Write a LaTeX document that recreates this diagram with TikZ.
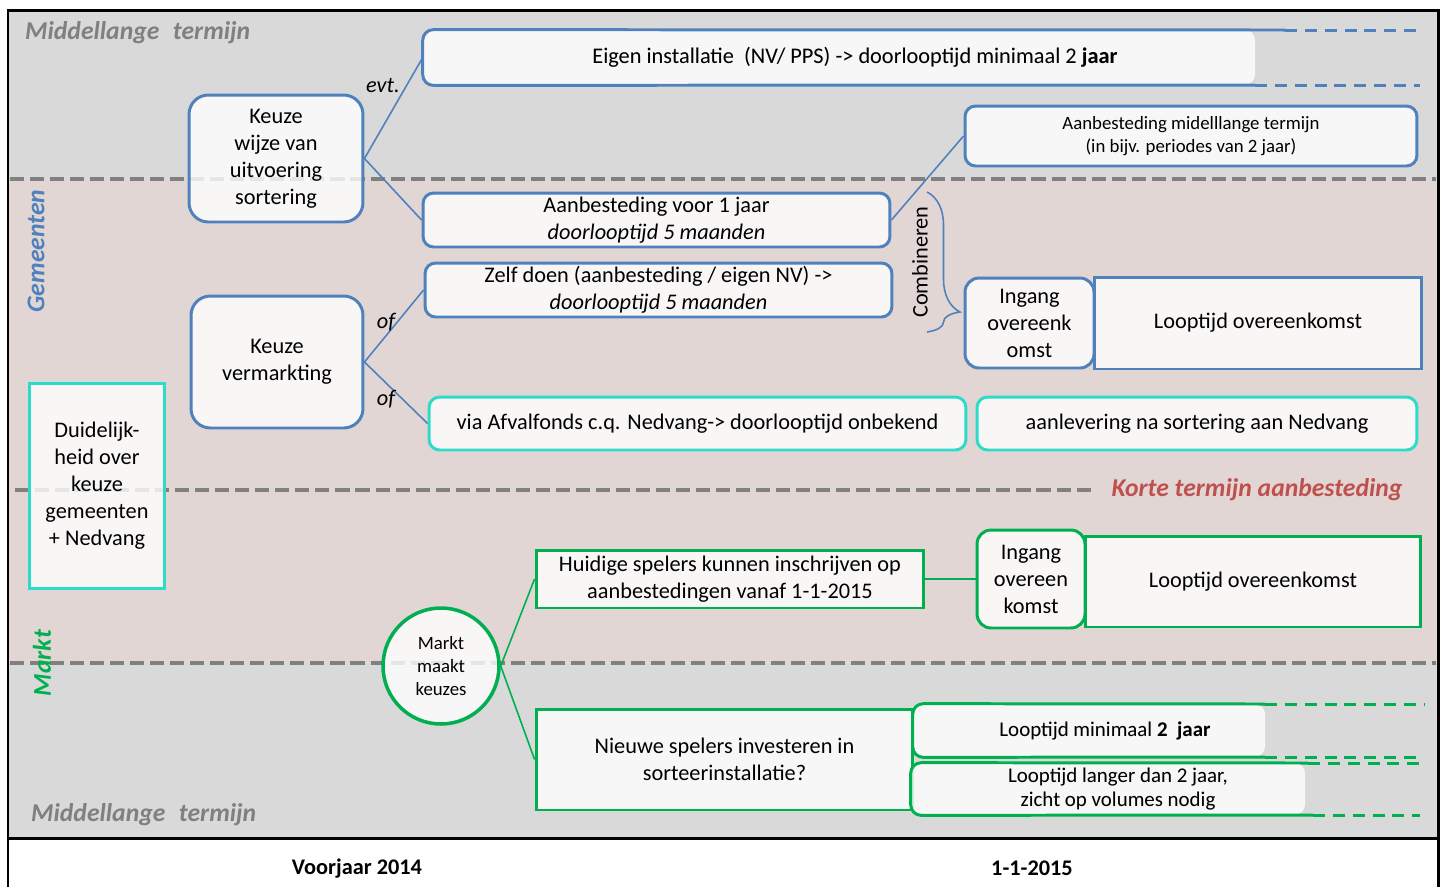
\documentclass[tikz,border=0pt]{standalone}
\usepackage{fontspec}
\setmainfont{Carlito}
\usetikzlibrary{decorations.pathreplacing}

\definecolor{boxblue}{RGB}{79,129,189}
\definecolor{boxteal}{RGB}{45,220,200}
\definecolor{boxgreen}{RGB}{0,176,80}
\definecolor{bandgray}{RGB}{217,217,217}
\definecolor{bandpink}{RGB}{226,214,213}
\definecolor{dashgray}{RGB}{128,128,128}
\definecolor{termred}{RGB}{192,80,77}

\newcommand{\bigtxt}{\fontsize{12.7}{15.4}\selectfont}
\newcommand{\smalltxt}{\fontsize{10.7}{13}\selectfont}
\newcommand{\looptxt}{\fontsize{11.9}{14.2}\selectfont}
\newcommand{\bandtxt}{\fontsize{14.6}{17}\selectfont\bfseries\itshape}

\begin{document}
\begin{tikzpicture}[x=0.02cm, y=-0.02cm,
    card/.style={fill=white, fill opacity=0.8, text opacity=1, line width=1.7pt, inner sep=0pt, align=center, font=\bigtxt},
    bluecard/.style={card, draw=boxblue},
    tealcard/.style={card, draw=boxteal},
    greencard/.style={card, draw=boxgreen},
    cardfill/.style={fill=white, fill opacity=0.8},
    bluelink/.style={draw=boxblue, line width=0.9pt},
    greenlink/.style={draw=boxgreen, line width=0.9pt},
    laneline/.style={draw=dashgray, line width=2.3pt, dash pattern=on 8pt off 3.4pt},
    openend/.style={line width=1.7pt, dash pattern=on 6.8pt off 4.5pt}]
    \useasboundingbox (0,0) rectangle (1448,887);

    % bands and frame
    \fill[bandgray] (8,10) rectangle (1438,179);
    \fill[bandpink] (8,179) rectangle (1438,663);
    \fill[bandgray] (8,663) rectangle (1438,838);
    \draw[laneline] (10,179) -- (1436,179);
    \draw[laneline] (15,490) -- (1095,490);
    \draw[laneline] (10,663) -- (1436,663);
    \draw[line width=1.7pt] (8,887) -- (8,10) -- (1438,10) -- (1438,887);
    \draw[line width=1.7pt] (8,838) -- (1438,838);

    \node[anchor=west, text=dashgray, font=\bandtxt] (midTop) at (19,33) {Middellange\hspace{0.3em} termijn};
    \node[anchor=west, text=dashgray, font=\bandtxt] (midLow) at (25,815) {Middellange\hspace{0.3em} termijn};
    \node[rotate=90, text=boxblue, font=\bandtxt] (gemeenten) at (36,251) {Gemeenten};
    \node[rotate=90, text=boxgreen, font=\bandtxt] (marktLane) at (42,663) {Markt};
    \node[text=termred, font=\bandtxt] (korte) at (1257,490) {Korte termijn aanbesteding};

    % gemeenten
    \node[bluecard, rounded corners=11pt, minimum width=3.48cm, minimum height=2.54cm] (keuzeSort) at (276,158.5) {Keuze\\wijze van\\uitvoering\\sortering};
    \node[font=\bigtxt, inner sep=0pt, minimum width=17.28cm, minimum height=1.1cm] (eigen) at (855,57.5) {Eigen installatie\ \ (NV/ PPS) -> doorlooptijd minimaal 2 \textbf{jaar}};
    \fill[cardfill, rounded corners=6pt] (eigen.north west) rectangle (1255,85);
    \node[font=\bigtxt] at (eigen) {Eigen installatie\ \ (NV/ PPS) -> doorlooptijd minimaal 2 \textbf{jaar}};
    \draw[boxblue, line width=1.7pt, rounded corners=6pt] (1285,30) -- (eigen.north west) -- (eigen.south west) -- (1255,85);
    \draw[boxblue, openend] (1285,30) -- (1420,30) (1255,85) -- (1420,85);

    \node[bluecard, rounded corners=6pt, font=\smalltxt, minimum width=9.04cm, minimum height=1.2cm] (aanbMid) at (1191,136) {Aanbesteding midelllange termijn\\(in bijv. periodes van 2 jaar)};
    \node[bluecard, rounded corners=6pt, minimum width=9.34cm, minimum height=1.08cm] (aanb1) at (656.5,220) {Aanbesteding voor 1 jaar\\\textit{doorlooptijd 5 maanden}};
    \node[bluecard, rounded corners=6pt, minimum width=9.34cm, minimum height=1.08cm] (zelf) at (658.5,290) {Zelf doen (aanbesteding / eigen NV) ->\\\textit{doorlooptijd 5 maanden}};
    \node[bluecard, rounded corners=11pt, minimum width=3.44cm, minimum height=2.64cm] (keuzeVerm) at (277,362) {Keuze\\vermarkting};

    \node[rotate=90, font=\bigtxt] (combi) at (920,262) {Combineren};
    \draw[boxblue, line width=0.9pt, decorate, decoration={brace, amplitude=0.66cm, aspect=0.857}] (927,192) -- (927,332);

    \node[bluecard, rounded corners=8pt, minimum width=2.58cm, minimum height=1.8cm] (ingang1) at (1029.5,323) {Ingang\\overeenk\\omst};
    \node[bluecard, minimum width=6.56cm, minimum height=1.84cm] (loop1) at (1258,323) {Looptijd overeenkomst};

    \node[tealcard, rounded corners=6pt, minimum width=10.74cm, minimum height=1.06cm] (afval) at (697.5,423.5) {via Afvalfonds c.q. Nedvang-> doorlooptijd onbekend};
    \node[tealcard, rounded corners=6pt, minimum width=8.8cm, minimum height=1.06cm] (aanlev) at (1197,423.5) {aanlevering na sortering aan Nedvang};
    \node[tealcard, minimum width=2.72cm, minimum height=4.12cm] (duidelijk) at (97,486) {Duidelijk-\\heid over\\keuze\\gemeenten\\+ Nedvang};

    \draw[bluelink] (keuzeSort.east) -- (eigen.west);
    \draw[bluelink] (keuzeSort.east) -- (aanb1.west);
    \draw[bluelink] (aanb1.east) -- (aanbMid.west);
    \draw[bluelink] (keuzeVerm.east) -- (zelf.west);
    \draw[bluelink] (keuzeVerm.east) -- (afval.west);
    \node[font=\bigtxt\itshape] (evt) at (383,86) {evt.};
    \node[font=\bigtxt\itshape] (ofTop) at (386,322) {of};
    \node[font=\bigtxt\itshape] (ofLow) at (386,399) {of};

    % markt
    \node[greencard, circle, line width=2pt, font=\smalltxt, minimum size=2.32cm] (markt) at (441,666) {Markt\\maakt\\keuzes};
    \node[greencard, minimum width=7.76cm, minimum height=1.16cm] (huidig) at (730,579) {Huidige spelers kunnen inschrijven op\\aanbestedingen vanaf 1-1-2015};
    \node[greencard, rounded corners=8pt, minimum width=2.16cm, minimum height=1.96cm] (ingang2) at (1031,579) {Ingang\\overeen\\komst};
    \node[greencard, minimum width=6.72cm, minimum height=1.82cm] (loop2) at (1253,581.5) {Looptijd overeenkomst};
    \node[greencard, minimum width=7.54cm, minimum height=2.02cm] (nieuw) at (724.5,759.5) {Nieuwe spelers investeren in\\sorteerinstallatie?};

    \node[font=\looptxt, inner sep=0pt, minimum width=7.68cm, minimum height=1.06cm] (loopMin) at (1105,730.5) {Looptijd minimaal \textbf{2\ \ jaar}};
    \fill[cardfill, rounded corners=6pt] (loopMin.north west) rectangle (1265,757);
    \node[font=\looptxt] at (loopMin) {Looptijd minimaal \textbf{2\ \ jaar}};
    \draw[boxgreen, line width=1.7pt, rounded corners=6pt] (1265,704) -- (loopMin.north west) -- (loopMin.south west) -- (1265,757);
    \draw[boxgreen, openend] (1265,704) -- (1425,704) (1265,757) -- (1420,757);

    \node[font=\looptxt, align=center, inner sep=0pt, minimum width=8.28cm, minimum height=1.04cm] (loopLang) at (1118,789) {Looptijd langer dan 2 jaar,\\zicht op volumes nodig};
    \fill[cardfill, rounded corners=6pt] (loopLang.north west) rectangle (1305,815);
    \node[font=\looptxt, align=center] at (loopLang) {Looptijd langer dan 2 jaar,\\zicht op volumes nodig};
    \draw[boxgreen, line width=1.7pt, rounded corners=6pt] (1308,763) -- (loopLang.north west) -- (loopLang.south west) -- (1313,815);
    \draw[boxgreen, openend] (1308,763) -- (1420,763) (1313,815) -- (1420,815);

    \draw[greenlink] (huidig.east) -- (ingang2.west);
    \draw[greenlink] (markt.east) -- (huidig.west);
    \draw[greenlink] (markt.east) -- (nieuw.west);

    % time axis
    \node[font=\bigtxt\bfseries] (voorjaar) at (357,869) {Voorjaar 2014};
    \node[font=\bigtxt\bfseries] (datum) at (1032,868) {1-1-2015};
\end{tikzpicture}
\end{document}
